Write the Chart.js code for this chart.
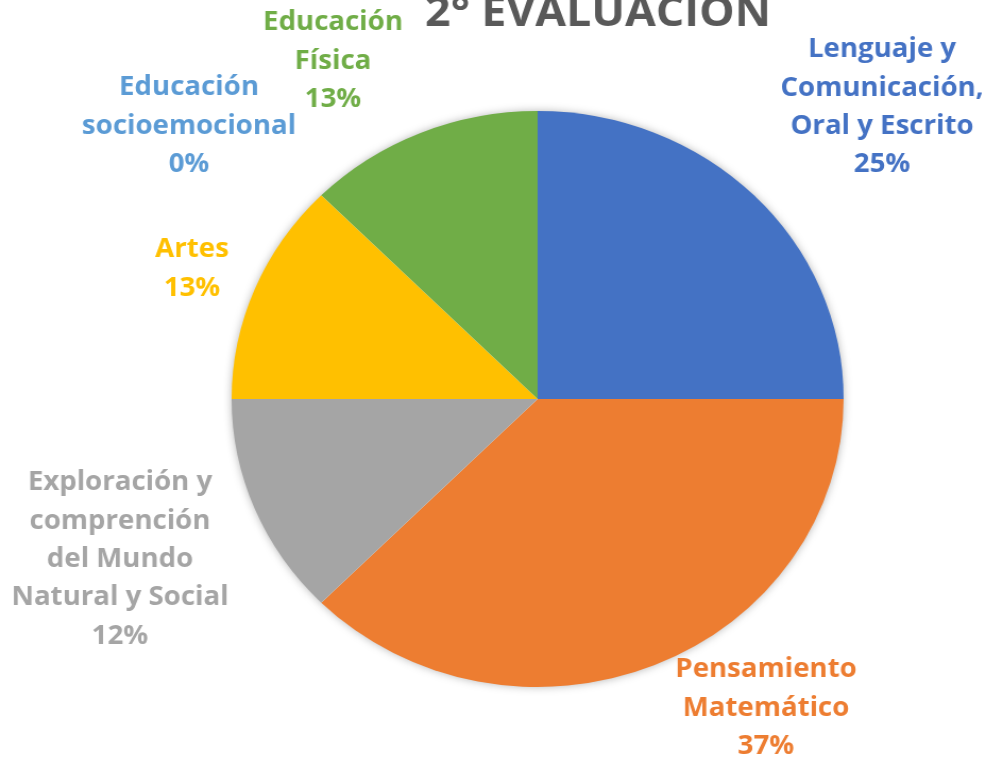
<!DOCTYPE html>
<html lang="es">

<head>
    <meta charset="UTF-8">
    <title>2° Evaluación</title>
    <style>
        body {
            margin: 0;
            padding: 0;
            background: #ffffff;
            overflow: hidden;
        }

        #wrap {
            width: 932px;
            height: 760px;
            transform: scaleX(1.0625);
            transform-origin: 0 0;
        }
    </style>
</head>

<body>

    <div id="wrap">
        <canvas id="pieChart" width="932" height="760"></canvas>
    </div>

    <script src="https://cdn.jsdelivr.net/npm/chart.js"></script>
    <script>
        // Chart data
        const chartTitle = '2° EVALUACIÓN';
        const categoryLines = [
            ['Lenguaje y', 'Comunicación,', 'Oral y Escrito'],
            ['Pensamiento', 'Matemático'],
            ['Exploración y', 'comprención', 'del Mundo', 'Natural y Social'],
            ['Artes'],
            ['Educación', 'socioemocional'],
            ['Educación', 'Física']
        ];
        const categories = categoryLines.map(l => l.join(' '));
        const values = [2, 3, 1, 1, 0, 1];
        const pctLabels = ['25%', '37%', '12%', '13%', '0%', '13%'];
        const colors = ['#4472C4', '#ED7D31', '#A5A5A5', '#FFC000', '#5B9BD5', '#70AD47'];

        const STRETCH = 1.0625;
        // label centres (page px), as placed in the original chart
        const labelSpots = [
            [882, 50], [766, 670], [120, 483], [192, 250], [189, 88], [333, 23]
        ];

        // soft shadow under the whole pie
        const pieShadow = {
            id: 'pieShadow',
            beforeDatasetsDraw(chart) {
                const arc = chart.getDatasetMeta(0).data[0];
                if (!arc) return;
                const ctx = chart.ctx;
                ctx.save();
                ctx.shadowColor = 'rgba(0,0,0,0.35)';
                ctx.shadowBlur = 10;
                ctx.fillStyle = '#ffffff';
                ctx.beginPath();
                ctx.arc(arc.x, arc.y, arc.outerRadius - 1, 0, Math.PI * 2);
                ctx.fill();
                ctx.restore();
            }
        };

        // title and data labels
        const pieText = {
            id: 'pieText',
            afterDraw(chart) {
                const ctx = chart.ctx;
                ctx.save();
                ctx.textAlign = 'center';

                ctx.fillStyle = '#595959';
                ctx.font = 'bold 42px "Open Sans", sans-serif';
                ctx.textBaseline = 'alphabetic';
                ctx.fillText(chartTitle, 598 / STRETCH, 26);

                ctx.font = 'bold 26px "Open Sans", sans-serif';
                ctx.textBaseline = 'middle';
                const lineH = 38.3;
                values.forEach((v, i) => {
                    const lines = categoryLines[i].concat([pctLabels[i]]);
                    const [px, py] = labelSpots[i];
                    ctx.fillStyle = colors[i];
                    lines.forEach((t, j) => {
                        ctx.fillText(t, px / STRETCH, py + j * lineH);
                    });
                });
                ctx.restore();
            }
        };

        new Chart(document.getElementById('pieChart'), {
            type: 'pie',
            data: {
                labels: categories,
                datasets: [{
                    data: values,
                    backgroundColor: colors,
                    borderWidth: 0
                }]
            },
            options: {
                responsive: false,
                animation: false,
                layout: {
                    padding: { top: 111, bottom: 73, left: 218, right: 138 }
                },
                plugins: {
                    legend: { display: false },
                    tooltip: { enabled: false }
                }
            },
            plugins: [pieShadow, pieText]
        });
    </script>

</body>

</html>
